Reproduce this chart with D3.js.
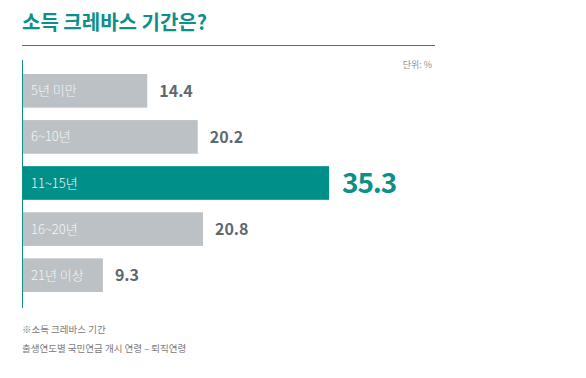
<!DOCTYPE html>
<html>
<head>
<meta charset="utf-8">
<script src="https://cdn.jsdelivr.net/npm/d3@7"></script>
<style>
  body { margin: 0; background: #fff; }
  svg { display: block; font-family: "Noto Sans CJK KR", "Noto Sans", sans-serif; }
</style>
</head>
<body>
<svg width="586" height="378"></svg>
<script>
const categories = ["5년 미만", "6~10년", "11~15년", "16~20년", "21년 이상"];
const values = [14.4, 20.2, 35.3, 20.8, 9.3];
const highlight = "11~15년";

const teal = "#0e8f88";
const svg = d3.select("svg");

const x = d3.scaleLinear().domain([0, 40]).range([22, 370]);
const y = d3.scaleBand().domain(categories).range([68, 298]).paddingInner(0.27).paddingOuter(0.13);

// title
svg.append("text")
  .attr("x", 22).attr("y", 30)
  .attr("font-size", 20).attr("font-weight", 700)
  .attr("fill", teal)
  .text("소득 크레바스 기간은?");

svg.append("line")
  .attr("x1", 22).attr("x2", 435)
  .attr("y1", 45.5).attr("y2", 45.5)
  .attr("stroke", teal).attr("stroke-width", 1);

svg.append("text")
  .attr("x", 432).attr("y", 68)
  .attr("text-anchor", "end")
  .attr("font-size", 9).attr("fill", "#8a8f93")
  .text("단위: %");

const rows = categories.map((c, i) => ({ cat: c, val: values[i] }));

svg.selectAll("rect.bar")
  .data(rows)
  .enter()
  .append("rect")
  .attr("class", "bar")
  .attr("x", x(0))
  .attr("y", d => y(d.cat))
  .attr("width", d => x(d.val) - x(0))
  .attr("height", y.bandwidth())
  .attr("fill", d => d.cat === highlight ? "#00908a" : "#bbc1c4");

// category labels inside bars
svg.selectAll("text.cat")
  .data(rows)
  .enter()
  .append("text")
  .attr("class", "cat")
  .attr("x", 31)
  .attr("y", d => y(d.cat) + y.bandwidth() / 2)
  .attr("dy", "0.35em")
  .attr("font-size", 13)
  .attr("font-weight", 300)
  .attr("fill", "#f4f6f6")
  .text(d => d.cat);

// value labels
svg.selectAll("text.val")
  .data(rows)
  .enter()
  .append("text")
  .attr("class", "val")
  .attr("x", d => x(d.val) + (d.cat === highlight ? 13 : 12))
  .attr("y", d => y(d.cat) + y.bandwidth() / 2)
  .attr("dy", "0.36em")
  .attr("font-size", d => d.cat === highlight ? 28 : 16)
  .attr("letter-spacing", d => d.cat === highlight ? -1.2 : 0)
  .attr("font-weight", 700)
  .attr("fill", d => d.cat === highlight ? teal : "#5d6870")
  .text(d => d.val.toFixed(1));

// vertical axis line
svg.append("line")
  .attr("x1", 22.5).attr("x2", 22.5)
  .attr("y1", 60).attr("y2", 308)
  .attr("stroke", teal).attr("stroke-width", 1);

// footnote
svg.append("text")
  .attr("x", 22).attr("y", 333)
  .attr("font-size", 9.5).attr("fill", "#7a7a7a")
  .text("※소득 크레바스 기간");
svg.append("text")
  .attr("x", 22).attr("y", 352)
  .attr("font-size", 9.5).attr("fill", "#7a7a7a")
  .text("출생연도별 국민연금 개시 연령 – 퇴직연령");
</script>
</body>
</html>
